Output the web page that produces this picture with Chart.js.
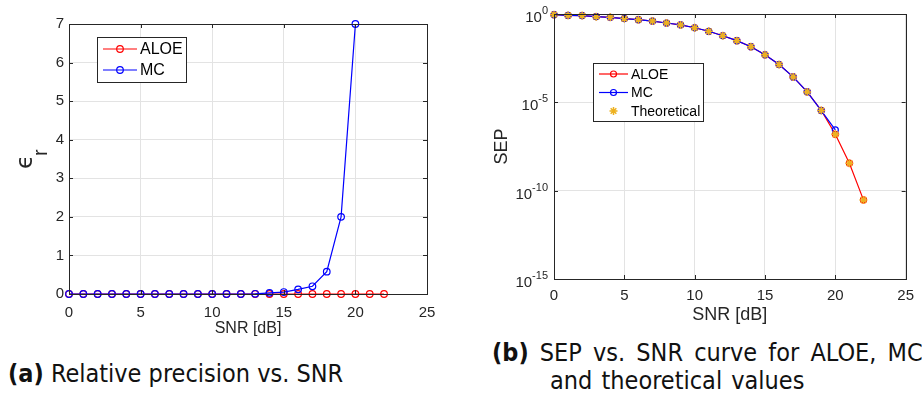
<!DOCTYPE html>
<html>
<head>
<meta charset="utf-8">
<script src="https://cdn.jsdelivr.net/npm/chart.js@4.4.1/dist/chart.umd.min.js"></script>
<style>
body { margin: 0; width: 922px; height: 394px; background: #fff; position: relative; overflow: hidden; }
#leftBox { position: absolute; left: 0; top: 0; width: 460px; height: 345px; }
#rightBox { position: absolute; left: 460px; top: 0; width: 462px; height: 330px; }
.cap { position: absolute; font-family: 'DejaVu Sans Condensed', 'DejaVu Sans', sans-serif; font-size: 25px; line-height: 29px; color: #111; white-space: nowrap; }
.cap b { font-weight: bold; }
</style>
</head>
<body>
<div id="leftBox"><canvas id="precisionChart"></canvas></div>
<div id="rightBox"><canvas id="sepChart"></canvas></div>
<div class="cap" style="left:8px; top:359px;"><b>(a)</b> Relative precision vs. SNR</div>
<div class="cap" style="left:492px; top:338px; word-spacing:4px;"><b>(b)</b> SEP vs. SNR curve for ALOE, MC</div>
<div class="cap" style="left:550px; top:366px; word-spacing:2px;">and theoretical values</div>

<script>
// SNR points (dB)
const snrAll = [0, 1, 2, 3, 4, 5, 6, 7, 8, 9, 10, 11, 12, 13, 14, 15, 16, 17, 18, 19, 20, 21, 22];
const snrMC = [0, 1, 2, 3, 4, 5, 6, 7, 8, 9, 10, 11, 12, 13, 14, 15, 16, 17, 18, 19, 20];

// (a) relative precision
const aloePrecision = [0, 0, 0, 0, 0, 0, 0, 0, 0, 0, 0, 0, 0, 0, 0, 0, 0, 0, 0, 0, 0, 0, 0];
const mcPrecision = [0, 0, 0, 0, 0, 0, 0, 0, 0, 0, 0, 0, 0, 0.005, 0.03, 0.05, 0.12, 0.2, 0.58, 2.0, 7.0];

// (b) symbol error probability
const aloeSep = [0.912, 0.832, 0.813, 0.708, 0.646, 0.55, 0.479, 0.398, 0.309, 0.24, 0.166, 0.105,
    0.0589, 0.0309, 0.0141, 0.0049, 1.38e-3, 2.75e-4, 3.9e-5, 3.5e-6, 1.55e-7, 3.6e-9, 3.0e-11];
const mcSep = [0.912, 0.832, 0.813, 0.708, 0.646, 0.55, 0.479, 0.398, 0.309, 0.24, 0.166, 0.105,
    0.0589, 0.0309, 0.0141, 0.0049, 1.38e-3, 2.75e-4, 3.9e-5, 3.4e-6, 2.75e-7];
const theorySep = [0.912, 0.832, 0.813, 0.708, 0.646, 0.55, 0.479, 0.398, 0.309, 0.24, 0.166, 0.105,
    0.0589, 0.0309, 0.0141, 0.0049, 1.38e-3, 2.75e-4, 3.9e-5, 3.5e-6, 1.55e-7, 3.6e-9, 3.0e-11];

// tick labels
const snrTicks = [0, 5, 10, 15, 20, 25];
const precisionTicks = [0, 1, 2, 3, 4, 5, 6, 7];
const sepTicks = [1e-15, 1e-10, 1e-5, 1];

const axisColor = '#262626';
const gridColor = '#e3e3e3';
const tickFont = 'Liberation Sans';

function pts(xs, ys) {
    return ys.map((y, i) => ({ x: xs[i], y: y }));
}

// MATLAB-like box with inward ticks
const axesBox = {
    id: 'axesBox',
    afterDatasetsDraw(chart) {
        const { ctx, chartArea: a, scales } = chart;
        ctx.save();
        ctx.strokeStyle = axisColor;
        ctx.lineWidth = 1;
        ctx.strokeRect(Math.round(a.left) + 0.5, Math.round(a.top) + 0.5,
            Math.round(a.right - a.left), Math.round(a.bottom - a.top));
        ctx.beginPath();
        scales.x.ticks.forEach(t => {
            const px = Math.round(scales.x.getPixelForValue(t.value)) + 0.5;
            ctx.moveTo(px, a.bottom); ctx.lineTo(px, a.bottom - 4);
            ctx.moveTo(px, a.top); ctx.lineTo(px, a.top + 4);
        });
        scales.y.ticks.forEach(t => {
            const py = Math.round(scales.y.getPixelForValue(t.value)) + 0.5;
            ctx.moveTo(a.left, py); ctx.lineTo(a.left + 4, py);
            ctx.moveTo(a.right, py); ctx.lineTo(a.right - 4, py);
        });
        ctx.stroke();
        ctx.restore();
    }
};

// legend box drawn inside the axes
const boxLegend = {
    id: 'boxLegend',
    afterDraw(chart, args, o) {
        const ctx = chart.ctx;
        ctx.save();
        ctx.fillStyle = '#fff';
        ctx.fillRect(o.x, o.y, o.w, o.h);
        ctx.strokeStyle = axisColor;
        ctx.lineWidth = 1;
        ctx.strokeRect(o.x + 0.5, o.y + 0.5, o.w, o.h);
        chart.data.datasets.forEach((ds, i) => {
            const cy = o.y + o.first + o.row * i;
            const x0 = o.x + 6, x1 = x0 + o.sample;
            if (ds.showLine !== false) {
                ctx.strokeStyle = ds.borderColor;
                ctx.lineWidth = ds.borderWidth;
                ctx.beginPath(); ctx.moveTo(x0, cy); ctx.lineTo(x1, cy); ctx.stroke();
            }
            ctx.strokeStyle = ds.pointBorderColor || ds.borderColor;
            ctx.fillStyle = 'rgba(0,0,0,0)';
            ctx.lineWidth = ds.pointBorderWidth;
            Chart.helpers.drawPoint(ctx, {
                pointStyle: ds.pointStyle, radius: ds.pointRadius,
                rotation: 0, borderWidth: ds.pointBorderWidth
            }, (x0 + x1) / 2, cy);
            ctx.fillStyle = '#000';
            ctx.font = o.font;
            ctx.textBaseline = 'middle';
            ctx.fillText(ds.label, x1 + 3, cy + 1);
        });
        ctx.restore();
    }
};

// epsilon_r axis title
const epsTitle = {
    id: 'epsTitle',
    afterDraw(chart) {
        const { ctx, chartArea: a } = chart;
        const cy = (a.top + a.bottom) / 2;
        ctx.save();
        ctx.translate(31, cy);
        ctx.rotate(-Math.PI / 2);
        ctx.fillStyle = axisColor;
        ctx.textBaseline = 'alphabetic';
        ctx.font = '23px "DejaVu Sans"';
        ctx.fillText('\u03F5', -10, 1);
        ctx.font = '20px "Liberation Sans"';
        ctx.fillText('r', 3, 16);
        ctx.restore();
    }
};

// 10^n labels for the log axis
const powerTicks = {
    id: 'powerTicks',
    afterDraw(chart) {
        const { ctx, chartArea: a, scales } = chart;
        const y = scales.y;
        ctx.save();
        ctx.fillStyle = axisColor;
        ctx.textBaseline = 'alphabetic';
        ctx.textAlign = 'left';
        y.ticks.forEach(t => {
            const py = y.getPixelForValue(t.value);
            const exp = String(Math.round(Math.log10(t.value)));
            ctx.font = '11px "Liberation Sans"';
            const ew = ctx.measureText(exp).width;
            ctx.font = '15px "Liberation Sans"';
            const bw = ctx.measureText('10').width;
            const right = a.left - 6;
            ctx.fillText('10', right - ew - bw, py + 8);
            ctx.font = '11px "Liberation Sans"';
            ctx.fillText(exp, right - ew, py + 0);
        });
        ctx.restore();
    }
};

new Chart(document.getElementById('precisionChart').getContext('2d'), {
    type: 'line',
    data: {
        datasets: [{
            label: 'ALOE',
            data: pts(snrAll, aloePrecision),
            borderColor: '#ff0000',
            borderWidth: 1.2,
            pointStyle: 'circle',
            pointRadius: 3.3,
            pointBorderWidth: 1.2,
            pointBackgroundColor: 'rgba(0,0,0,0)',
            clip: false,
            order: 2
        }, {
            label: 'MC',
            data: pts(snrMC, mcPrecision),
            borderColor: '#0000ff',
            borderWidth: 1.2,
            pointStyle: 'circle',
            pointRadius: 3.3,
            pointBorderWidth: 1.2,
            pointBackgroundColor: 'rgba(0,0,0,0)',
            clip: false,
            order: 1
        }]
    },
    options: {
        responsive: true,
        maintainAspectRatio: false,
        animation: false,
        layout: { padding: { top: 24, right: 33, left: 0, bottom: 0 } },
        plugins: {
            legend: { display: false },
            tooltip: { enabled: false },
            boxLegend: { x: 97, y: 37, w: 89, h: 45, first: 12, row: 21, sample: 34, font: '16px "Liberation Sans"' }
        },
        scales: {
            x: {
                type: 'linear', min: 0, max: 25,
                afterBuildTicks: s => { s.ticks = snrTicks.map(v => ({ value: v })); },
                afterFit: s => { s.height = 51; },
                grid: { color: gridColor, drawTicks: false },
                border: { display: false },
                ticks: { color: axisColor, font: { family: tickFont, size: 15 }, padding: 10, maxRotation: 0 },
                title: { display: true, text: 'SNR [dB]', color: axisColor, font: { family: tickFont, size: 16 }, padding: { top: 2, bottom: 7 } }
            },
            y: {
                type: 'linear', min: 0, max: 7,
                afterBuildTicks: s => { s.ticks = precisionTicks.map(v => ({ value: v })); },
                afterFit: s => { s.width = 69; },
                grid: { color: gridColor, drawTicks: false },
                border: { display: false },
                ticks: { color: axisColor, font: { family: tickFont, size: 15 }, padding: 5 }
            }
        }
    },
    plugins: [axesBox, boxLegend, epsTitle]
});

new Chart(document.getElementById('sepChart').getContext('2d'), {
    type: 'line',
    data: {
        datasets: [{
            label: 'ALOE',
            data: pts(snrAll, aloeSep),
            borderColor: '#ff0000',
            borderWidth: 1.2,
            pointStyle: 'circle',
            pointRadius: 3,
            pointBorderWidth: 1.2,
            pointBackgroundColor: 'rgba(0,0,0,0)',
            clip: false,
            order: 3
        }, {
            label: 'MC',
            data: pts(snrMC, mcSep),
            borderColor: '#0000ff',
            borderWidth: 1.2,
            pointStyle: 'circle',
            pointRadius: 3,
            pointBorderWidth: 1.2,
            pointBackgroundColor: 'rgba(0,0,0,0)',
            clip: false,
            order: 2
        }, {
            label: 'Theoretical',
            data: pts(snrAll, theorySep),
            borderColor: '#EDB120',
            showLine: false,
            pointStyle: 'star',
            pointRadius: 4,
            pointBorderWidth: 1.5,
            clip: false,
            order: 1
        }]
    },
    options: {
        responsive: true,
        maintainAspectRatio: false,
        animation: false,
        layout: { padding: { top: 14, right: 13, left: 31, bottom: 0 } },
        plugins: {
            legend: { display: false },
            tooltip: { enabled: false },
            boxLegend: { x: 133, y: 63, w: 110, h: 58, first: 11, row: 18.5, sample: 29, font: '14px "Liberation Sans"' }
        },
        scales: {
            x: {
                type: 'linear', min: 0, max: 25,
                afterBuildTicks: s => { s.ticks = snrTicks.map(v => ({ value: v })); },
                afterFit: s => { s.height = 51; },
                grid: { color: gridColor, drawTicks: false },
                border: { display: false },
                ticks: { color: axisColor, font: { family: tickFont, size: 15 }, padding: 8, maxRotation: 0 },
                title: { display: true, text: 'SNR [dB]', color: axisColor, font: { family: tickFont, size: 18 }, padding: { top: 0, bottom: 4 } }
            },
            y: {
                type: 'logarithmic', min: 1e-15, max: 1,
                afterBuildTicks: s => { s.ticks = sepTicks.map(v => ({ value: v })); },
                afterFit: s => { s.width = 63; },
                grid: { color: gridColor, drawTicks: false },
                border: { display: false },
                ticks: { display: false },
                title: { display: true, text: 'SEP', color: axisColor, font: { family: tickFont, size: 18 }, padding: { top: 0, bottom: 0 } }
            }
        }
    },
    plugins: [axesBox, boxLegend, powerTicks]
});
</script>
</body>
</html>
